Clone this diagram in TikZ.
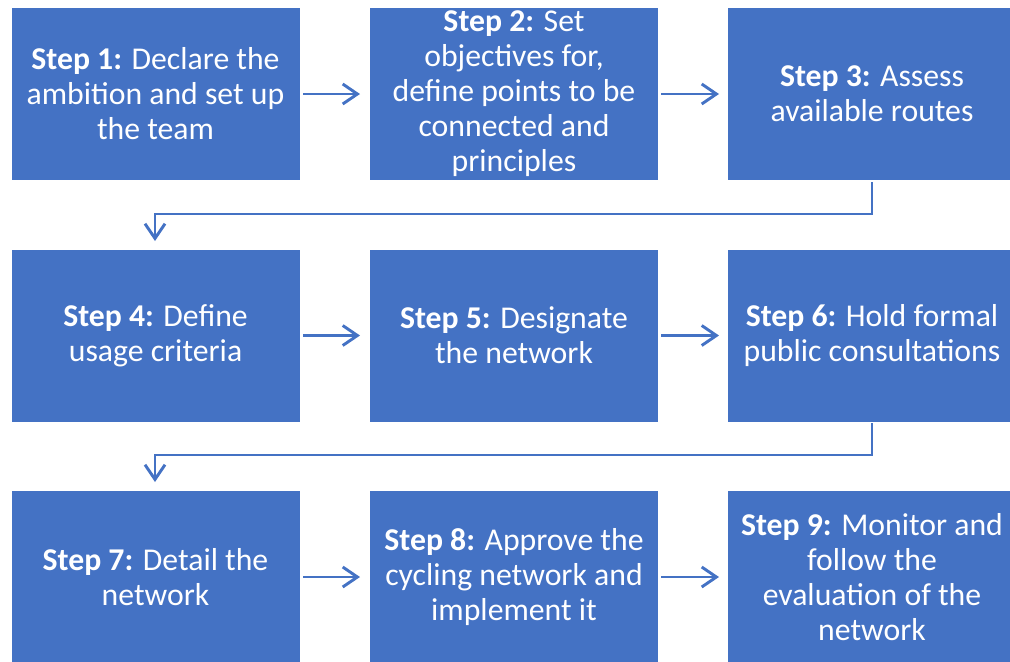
\documentclass[tikz,border=0pt]{standalone}
\usepackage{fontspec}
\setmainfont{Carlito}
\usetikzlibrary{arrows.meta}
\definecolor{boxblue}{HTML}{4472C4}
\begin{document}
\begin{tikzpicture}[x=0.75pt,y=-0.75pt,
  stepbox/.style={fill=boxblue, draw=none, text=white, minimum width=288*0.75pt, minimum height=172*0.75pt,
    inner sep=0pt, align=center, font=\fontsize{23.8}{26.2}\selectfont},
  conn/.style={draw=boxblue, line width=2.2pt, -{Straight Barb[length=11pt,width=15pt,line width=2.2pt]}},
  elbow/.style={draw=boxblue, line width=2.2pt, -{Straight Barb[length=11pt,width=15pt,line width=2.2pt]}}]
\useasboundingbox (0,0) rectangle (1010,661);
\begin{scope}
\clip (0,0) rectangle (1010,661);
\node[stepbox] (s1) at (155.5,94) {\textbf{Step 1:} Declare the\\ambition and set up\\the team};
\node[stepbox] (s2) at (514,94) {\textbf{Step 2:} Set\\objectives for,\\define points to be\\connected and\\principles};
\node[stepbox] (s3) at (872,94) {\textbf{Step 3:} Assess\\available routes};
\node[stepbox] (s4) at (155.5,335.5) {\textbf{Step 4:} Define\\usage criteria};
\node[stepbox] (s5) at (514,335.5) {\textbf{Step 5:} Designate\\the network};
\node[stepbox] (s6) at (872,335.5) {\textbf{Step 6:} Hold formal\\public consultations};
\node[stepbox] (s7) at (155.5,577) {\textbf{Step 7:} Detail the\\network};
\node[stepbox] (s8) at (514,577) {\textbf{Step 8:} Approve the\\cycling network and\\implement it};
\node[stepbox] (s9) at (872,577) {\textbf{Step 9:} Monitor and\\follow the\\evaluation of the\\network};
\end{scope}
\coordinate (a1) at (303,94); \coordinate (b1) at (360,94);
\coordinate (a2) at (661,94); \coordinate (b2) at (719,94);
\coordinate (a4) at (303,335.5); \coordinate (b4) at (360,335.5);
\coordinate (a5) at (661,335.5); \coordinate (b5) at (719,335.5);
\coordinate (a7) at (303,577); \coordinate (b7) at (360,577);
\coordinate (a8) at (661,577); \coordinate (b8) at (719,577);
\draw[conn] (a1) -- (b1);
\draw[conn] (a2) -- (b2);
\draw[conn] (a4) -- (b4);
\draw[conn] (a5) -- (b5);
\draw[conn] (a7) -- (b7);
\draw[conn] (a8) -- (b8);
\coordinate (e3) at (872,182); \coordinate (t4) at (155,241);
\coordinate (e6) at (872,423); \coordinate (t7) at (155,482);
\draw[elbow] (e3) -- (872,214) -- (155,214) -- (t4);
\draw[elbow] (e6) -- (872,455) -- (155,455) -- (t7);
\end{tikzpicture}
\end{document}
